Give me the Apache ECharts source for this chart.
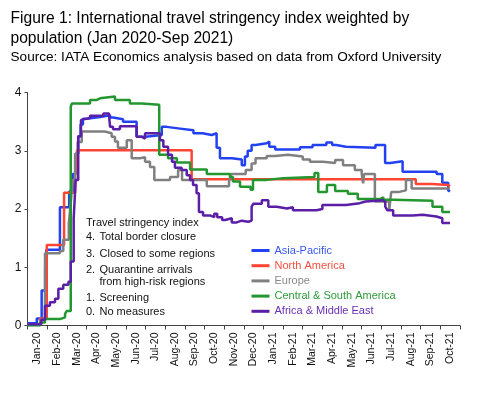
<!DOCTYPE html>
<html>
<head>
<meta charset="utf-8">
<script src="https://cdn.jsdelivr.net/npm/echarts@6/dist/echarts.min.js"></script>
<style>
html,body{margin:0;padding:0;background:#fff;}
#chart{width:482px;height:393px;}
</style>
</head>
<body>
<div id="chart"></div>
<script>
// Month labels (one category per month, Jan-20 .. Oct-21)
const monthLabels = ['Jan-20','Feb-20','Mar-20','Apr-20','May-20','Jun-20','Jul-20','Aug-20','Sep-20','Oct-20','Nov-20','Dec-20',
  'Jan-21','Feb-21','Mar-21','Apr-21','May-21','Jun-21','Jul-21','Aug-21','Sep-21','Oct-21'];
const yTicks = [0, 1, 2, 3, 4];

// [months since 1 Jan 2020, index value]
const asiaPacific = [[0,0.04],[0.47,0.12],[0.72,0.6],[0.9,1.0],[0.96,1.3],[1.65,2.03],[2.12,2.3],[2.3,2.6],[2.45,2.95],[2.58,3.25],[2.7,3.45],[2.82,3.55],[3.0,3.58],[3.69,3.61],[4.2,3.57],[4.35,3.54],[4.86,3.5],[5.55,3.24],[6.0,3.27],[6.83,3.41],[7.08,3.38],[7.76,3.35],[8.44,3.3],[8.9,3.27],[9.37,3.3],[9.62,3.05],[9.79,2.87],[10.4,2.85],[10.9,2.75],[11.06,2.9],[11.2,3.0],[11.4,3.1],[11.6,3.13],[12.17,3.16],[12.3,3.07],[12.6,3.02],[13.86,3.06],[14.5,3.1],[15.2,3.14],[15.5,3.1],[15.7,3.07],[16.2,3.05],[17.7,3.1],[18.19,2.79],[18.45,2.82],[19.08,2.64],[20.81,2.6],[21.1,2.45],[21.4,2.32],[21.49,2.3]];
const northAmerica = [[0,0.02],[0.64,0.12],[0.98,1.38],[1.86,2.28],[2.42,2.55],[2.52,3.01],[8.35,2.51],[19.75,2.43],[20.6,2.41],[21.4,2.39],[21.49,2.39]];
const europe = [[0,0.02],[0.64,0.1],[0.89,1.24],[1.65,1.28],[1.82,1.47],[2.1,1.75],[2.2,2.1],[2.3,2.5],[2.42,2.95],[2.55,3.15],[2.76,3.33],[3.94,3.3],[4.28,3.24],[4.45,3.16],[4.6,3.05],[5.05,3.18],[5.3,2.87],[5.72,2.89],[5.98,2.81],[6.23,2.72],[6.45,2.5],[7.25,2.55],[7.66,2.67],[7.86,2.5],[9.12,2.39],[10.25,2.47],[10.35,2.6],[11.1,2.67],[11.4,2.78],[11.6,2.87],[12.17,2.91],[12.6,2.93],[13.25,2.9],[14.0,2.85],[14.37,2.81],[15.03,2.79],[15.65,2.84],[16.05,2.75],[16.65,2.67],[17.0,2.61],[17.07,2.44],[17.12,2.6],[17.67,2.13],[18.4,1.98],[18.5,2.29],[18.86,2.32],[19.25,2.5],[19.54,2.35],[21.49,2.36]];
const centralSouthAmerica = [[0,0.0],[0.64,0.05],[0.89,0.11],[1.65,0.14],[1.91,0.2],[2.0,0.25],[2.2,3.76],[2.26,3.81],[3.18,3.87],[3.5,3.9],[3.69,3.93],[4.45,3.87],[5.21,3.81],[5.81,3.79],[6.7,2.93],[7.15,2.87],[7.6,2.8],[8.27,2.68],[9.12,2.6],[10.3,2.55],[10.45,2.47],[10.81,2.38],[11.35,2.33],[11.47,2.5],[12.17,2.53],[13.0,2.55],[14.6,2.62],[14.79,2.29],[15.23,2.41],[15.65,2.31],[16.3,2.26],[16.8,2.17],[17.93,2.2],[18.1,2.16],[18.6,2.14],[20.6,2.04],[21.1,1.95],[21.49,1.94]];
const africaMiddleEast = [[0,0.02],[0.7,0.1],[0.89,0.34],[1.14,0.4],[1.4,0.46],[1.57,0.63],[1.82,0.7],[2.08,0.75],[2.2,1.1],[2.35,1.84],[2.45,2.5],[2.58,3.25],[2.72,3.53],[2.8,3.56],[3.18,3.6],[3.86,3.64],[4.15,3.6],[4.2,3.41],[4.35,3.37],[4.7,3.42],[5.55,3.24],[5.81,3.21],[5.98,3.3],[6.74,3.18],[6.91,3.07],[7.15,2.93],[7.35,2.81],[7.5,2.71],[7.84,2.67],[8.1,2.58],[8.27,2.5],[8.42,2.41],[8.6,2.27],[8.72,1.95],[8.93,1.89],[9.28,1.86],[9.5,1.92],[9.65,1.86],[9.9,1.81],[10.05,1.84],[10.39,1.77],[10.64,1.8],[10.9,1.78],[11.23,1.8],[11.4,2.04],[11.49,2.09],[11.92,2.15],[12.25,2.04],[12.68,2.01],[13.2,2.03],[13.5,1.98],[14.7,2.0],[15.0,2.07],[15.5,2.07],[16.2,2.1],[16.9,2.13],[17.2,2.15],[18.08,2.12],[18.2,2.04],[18.3,1.98],[18.6,1.89],[19.6,1.9],[20.1,1.87],[20.8,1.84],[21.1,1.76],[21.49,1.76]];

const seriesDefs = [
  {name:'Asia-Pacific', data:asiaPacific, color:'#2242f2', text:'#3a55f0'},
  {name:'North America', data:northAmerica, color:'#ff4433', text:'#f2503f'},
  {name:'Europe', data:europe, color:'#808080', text:'#8a8a8a'},
  {name:'Central & South America', data:centralSouthAmerica, color:'#23962f', text:'#2e9a3a'},
  {name:'Africa & Middle East', data:africaMiddleEast, color:'#5a1fa6', text:'#6a30b2'}
];

const indexNotes = ['Travel stringency index','4.','3.','2.','','1.','0.'];
const indexTexts = ['','Total border closure','Closed to some regions','Quarantine arrivals','from high-risk regions','Screening','No measures'];

const FONT = '"Liberation Sans", Arial, sans-serif';
const chart = echarts.init(document.getElementById('chart'), null, {renderer:'canvas'});

const noteY = [222.5, 237, 254, 270, 282, 297.5, 311.5];
const noteFont = '11px ' + FONT;
const graphics = [];
indexNotes.forEach((t,i)=>{
  if (i === 0) {
    graphics.push({type:'text', x:86, y:noteY[i], style:{text:t, font:noteFont, fill:'#111', verticalAlign:'middle'}});
  } else {
    if (t) graphics.push({type:'text', x:86, y:noteY[i], style:{text:t, font:noteFont, fill:'#111', verticalAlign:'middle'}});
    graphics.push({type:'text', x:99.5, y:noteY[i], style:{text:indexTexts[i], font:noteFont, fill:'#111', verticalAlign:'middle'}});
  }
});

chart.setOption({
  animation:false,
  backgroundColor:'#fff',
  textStyle:{fontFamily:FONT},
  title:{
    text:'Figure 1: International travel stringency index weighted by\npopulation (Jan 2020-Sep 2021)',
    subtext:'Source: IATA Economics analysis based on data from Oxford University',
    left:10.5, top:9, itemGap:0, padding:0,
    textStyle:{fontSize:15.6, fontWeight:'normal', color:'#000', lineHeight:20, fontFamily:FONT},
    subtextStyle:{fontSize:13.6, color:'#000', fontFamily:FONT, lineHeight:17}
  },
  grid:{left:27.5, right:22, top:92.5, bottom:67.5, containLabel:false},
  legend:{
    orient:'vertical', left:246.5, top:240, icon:'rect', itemWidth:18, itemHeight:3, itemGap:4.2,
    textStyle:{fontSize:11, fontFamily:FONT},
    data: seriesDefs.map(s=>({name:s.name, textStyle:{color:s.text}}))
  },
  xAxis:[
    {type:'value', min:0, max:monthLabels.length, interval:1,
     axisLine:{show:true, lineStyle:{color:'#444', width:1}},
     axisTick:{show:true, length:4, lineStyle:{color:'#444'}},
     axisLabel:{show:false}, splitLine:{show:false}},
    {type:'category', data:monthLabels, position:'bottom', boundaryGap:true,
     axisLine:{show:false}, axisTick:{show:false}, splitLine:{show:false},
     axisLabel:{rotate:90, fontSize:10.5, color:'#111', margin:7, interval:0, fontFamily:FONT}}
  ],
  yAxis:{type:'value', min:yTicks[0], max:yTicks[yTicks.length-1], interval:1,
    axisLine:{show:true, lineStyle:{color:'#444'}},
    axisTick:{show:true, length:3, lineStyle:{color:'#444'}},
    axisLabel:{fontSize:12, color:'#111', margin:6, fontFamily:FONT},
    splitLine:{show:false}},
  graphic:graphics,
  series: seriesDefs.map(s=>({
    name:s.name, type:'line', xAxisIndex:0, step:'end', showSymbol:false, symbol:'none',
    data:s.data, color:s.color, lineStyle:{width:2.5, color:s.color}
  }))
});
</script>
</body>
</html>
